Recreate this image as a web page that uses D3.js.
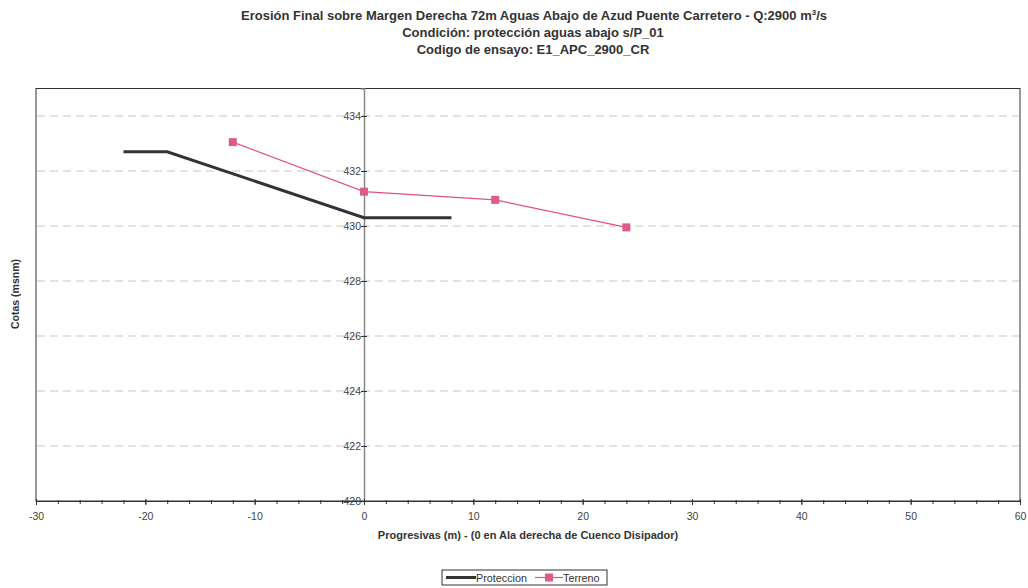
<!DOCTYPE html>
<html>
<head>
<meta charset="utf-8">
<script src="https://cdn.jsdelivr.net/npm/d3@7"></script>
<style>
  body { margin: 0; background: #fff; }
  svg { display: block; font-family: "Liberation Sans", Arial, sans-serif; }
</style>
</head>
<body>
<svg id="chart" width="1028" height="588"></svg>
<script>
// Protection profile (progresiva m, cota msnm)
const proteccionX = [-22, -18, 0, 8];
const proteccionY = [432.7, 432.7, 430.3, 430.3];
// Measured terrain after erosion
const terrenoX = [-12, 0, 12, 24];
const terrenoY = [433.05, 431.25, 430.95, 429.95];

const xTicks = [-30, -20, -10, 0, 10, 20, 30, 40, 50, 60];
const yTicks = [420, 422, 424, 426, 428, 430, 432, 434];

const svg = d3.select("#chart");
const plotLeft = 36, plotRight = 1020, plotTop = 88.5, plotBottom = 501;

const x = d3.scaleLinear().domain([-30, 60]).range([plotLeft, plotRight]);
const y = d3.scaleLinear().domain([420, 435]).range([plotBottom, plotTop]);

// Plot frame
svg.append("rect")
  .attr("x", plotLeft).attr("y", plotTop)
  .attr("width", plotRight - plotLeft).attr("height", plotBottom - plotTop)
  .attr("fill", "#fff").attr("stroke", "#333").attr("stroke-width", 1);

// Dashed horizontal gridlines
svg.append("g").selectAll("line")
  .data(yTicks.filter(d => d > 420))
  .join("line")
  .attr("x1", plotLeft + 1).attr("x2", plotRight - 1)
  .attr("y1", d => y(d)).attr("y2", d => y(d))
  .attr("stroke", "#cdc5bd").attr("stroke-width", 1)
  .attr("stroke-dasharray", "8,5");

// Y axis drawn at x = 0
const yAxis = d3.axisLeft(y).tickValues(yTicks).tickSize(3).tickPadding(2).tickFormat(d => String(d));
const gy = svg.append("g").attr("transform", `translate(${x(0)},0)`).call(yAxis);
gy.select(".domain").attr("stroke", "#888").attr("stroke-width", 1.5);
gy.selectAll(".tick line").attr("stroke", "#333").attr("x2", 3).attr("x1", -3);
gy.selectAll(".tick text").attr("fill", "#444").attr("font-size", 10.5).attr("x", -3);

// X axis with minor ticks every 2 m
const gxMinor = svg.append("g").attr("transform", `translate(0,${plotBottom})`)
  .call(d3.axisBottom(x).tickValues(d3.range(-30, 61, 2)).tickSize(3).tickFormat(""));
gxMinor.select(".domain").remove();
gxMinor.selectAll(".tick line").attr("stroke", "#333").attr("y1", -1).attr("y2", 3);

const gx = svg.append("g").attr("transform", `translate(0,${plotBottom})`)
  .call(d3.axisBottom(x).tickValues(xTicks).tickSize(4).tickPadding(8).tickSizeOuter(0)
    .tickFormat(d => String(d)));
gx.select(".domain").attr("stroke", "#333");
gx.selectAll(".tick line").attr("stroke", "#333").attr("y1", -2).attr("y2", 4);
gx.selectAll(".tick text").attr("fill", "#444").attr("font-size", 10.5);

// Series lines
const line = d3.line().x(d => x(d[0])).y(d => y(d[1]));
const proteccion = proteccionX.map((v, i) => [v, proteccionY[i]]);
const terreno = terrenoX.map((v, i) => [v, terrenoY[i]]);

svg.append("path").datum(proteccion).attr("d", line)
  .attr("fill", "none").attr("stroke", "#333").attr("stroke-width", 3);

svg.append("path").datum(terreno).attr("d", line)
  .attr("fill", "none").attr("stroke", "#e05088").attr("stroke-width", 1.2);

svg.append("g").selectAll("rect")
  .data(terreno).join("rect")
  .attr("x", d => x(d[0]) - 4).attr("y", d => y(d[1]) - 4)
  .attr("width", 8).attr("height", 8)
  .attr("fill", "#dd5a8e");

// Titles
const title = svg.append("g").attr("font-weight", "bold").attr("font-size", 13)
  .attr("fill", "#333").attr("text-anchor", "middle");
const t1 = title.append("text").attr("x", 534).attr("y", 20);
t1.append("tspan").text("Erosión Final sobre Margen Derecha 72m Aguas Abajo de Azud Puente Carretero - Q:2900 m");
t1.append("tspan").attr("font-size", 8).attr("dy", -5).text("3");
t1.append("tspan").attr("dy", 5).text("/s");
title.append("text").attr("x", 533).attr("y", 37).text("Condición: protección aguas abajo s/P_01");
title.append("text").attr("x", 533).attr("y", 54).text("Codigo de ensayo: E1_APC_2900_CR");

// Axis titles
svg.append("text").attr("x", 528).attr("y", 539)
  .attr("text-anchor", "middle").attr("font-weight", "bold").attr("font-size", 11).attr("fill", "#333")
  .text("Progresivas (m) - (0 en Ala derecha de Cuenco Disipador)");
svg.append("text").attr("transform", "translate(19,294) rotate(-90)")
  .attr("text-anchor", "middle").attr("font-weight", "bold").attr("font-size", 10.5).attr("fill", "#333")
  .text("Cotas (msnm)");

// Legend
const lg = svg.append("g");
lg.append("rect").attr("x", 442).attr("y", 570).attr("width", 165).attr("height", 15)
  .attr("fill", "#fff").attr("stroke", "#333").attr("stroke-width", 1);
lg.append("line").attr("x1", 446).attr("x2", 476).attr("y1", 577.5).attr("y2", 577.5)
  .attr("stroke", "#333").attr("stroke-width", 3);
lg.append("text").attr("x", 476).attr("y", 581.5).attr("font-size", 10.8).attr("fill", "#333").text("Proteccion");
lg.append("line").attr("x1", 535).attr("x2", 563).attr("y1", 577.5).attr("y2", 577.5)
  .attr("stroke", "#e05088").attr("stroke-width", 1.2);
lg.append("rect").attr("x", 545).attr("y", 573.5).attr("width", 8).attr("height", 8).attr("fill", "#dd5a8e");
lg.append("text").attr("x", 563).attr("y", 581.5).attr("font-size", 10.8).attr("fill", "#333").text("Terreno");
</script>
</body>
</html>
